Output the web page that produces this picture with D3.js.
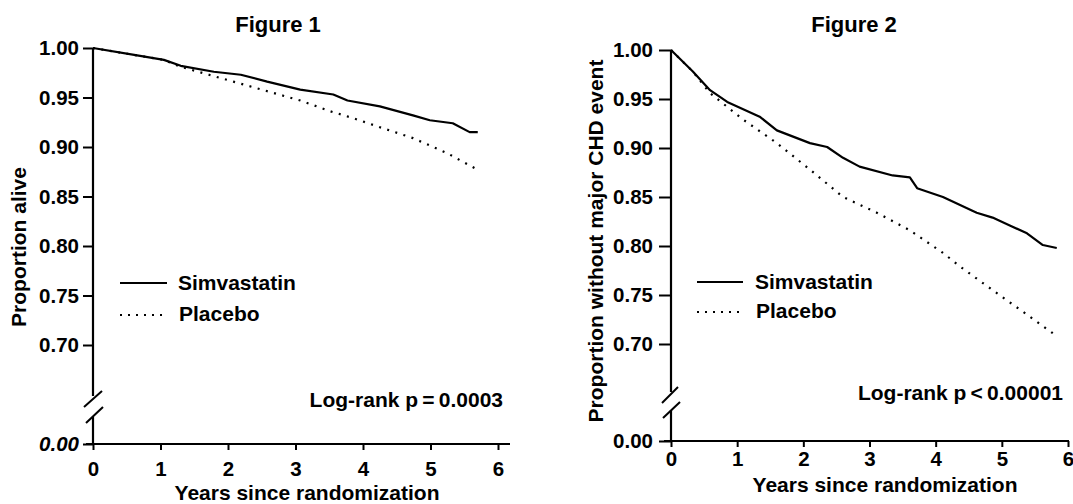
<!DOCTYPE html>
<html>
<head>
<meta charset="utf-8">
<script src="https://cdn.jsdelivr.net/npm/d3@7"></script>
<style>
  html, body { margin: 0; padding: 0; background: #fff; }
  svg { display: block; }
  text { font-family: "Liberation Sans", Arial, Helvetica, sans-serif; font-weight: bold; fill: #000; }
</style>
</head>
<body>
<svg id="chart" width="1073" height="504"></svg>
<script>
// ---------- data ----------
const xTicks = [0, 1, 2, 3, 4, 5, 6];
const yTicks = [0.00, 0.70, 0.75, 0.80, 0.85, 0.90, 0.95, 1.00];
const seriesNames = ["Simvastatin", "Placebo"];

// Figure 1: proportion alive
const fig1SimvaYears  = [0, 0.61, 1.05, 1.30, 1.79, 2.19, 2.58, 3.07, 3.56, 3.77, 4.25, 4.74, 4.99, 5.33, 5.58, 5.70];
const fig1SimvaValues = [1.000, 0.993, 0.988, 0.982, 0.976, 0.973, 0.966, 0.958, 0.953, 0.947, 0.941, 0.932, 0.927, 0.924, 0.915, 0.915];
const fig1PlaceboYears  = [0, 0.61, 1.05, 1.30, 2.08, 3.07, 3.52, 3.86, 4.25, 4.74, 5.24, 5.70];
const fig1PlaceboValues = [1.000, 0.993, 0.988, 0.981, 0.966, 0.947, 0.936, 0.929, 0.920, 0.909, 0.894, 0.877];

// Figure 2: proportion without major CHD event
const fig2SimvaYears  = [0, 0.33, 0.59, 0.85, 1.34, 1.60, 2.10, 2.36, 2.60, 2.85, 3.35, 3.61, 3.72, 4.11, 4.62, 4.86, 5.12, 5.38, 5.62, 5.83];
const fig2SimvaValues = [1.000, 0.978, 0.959, 0.947, 0.932, 0.918, 0.905, 0.901, 0.890, 0.881, 0.872, 0.870, 0.859, 0.850, 0.834, 0.829, 0.821, 0.813, 0.801, 0.798];
const fig2PlaceboYears  = [0, 0.33, 0.59, 1.09, 1.60, 2.10, 2.60, 3.11, 3.61, 4.11, 4.37, 4.86, 5.38, 5.77];
const fig2PlaceboValues = [1.000, 0.978, 0.956, 0.929, 0.905, 0.878, 0.850, 0.834, 0.816, 0.793, 0.779, 0.755, 0.730, 0.711];

const titles = ["Figure 1", "Figure 2"];
const yLabels = ["Proportion alive", "Proportion without major CHD event"];
const xLabel = "Years since randomization";
const pTexts = ["Log-rank p\u2009=\u20090.0003", "Log-rank p\u2009<\u20090.00001"];

// ---------- layout ----------
const panels = [
  {
    title: titles[0], yLabel: yLabels[0], pText: pTexts[0],
    simva: fig1SimvaYears.map((t, i) => ({ t, v: fig1SimvaValues[i] })),
    placebo: fig1PlaceboYears.map((t, i) => ({ t, v: fig1PlaceboValues[i] })),
    xr: [93, 498], yr: [444, 345, 48], xAxisEnd: 510,
    breakTop: 396, breakBot: 417,
    slashes: [[84, 407, 102, 391], [86, 423, 103, 407]],
    yTickSize: 10, yTickPad: 4,
    xTickPad: 11, xTitleY: 499.5, xTitleX: 307,
    titleX: 278, titleY: 32,
    yLabelX: 26, yLabelY: 247,
    italicZero: true,
    legend: { x1: 120, x2: 167, y1: 283, y2: 315, tx: 178 },
    pX: 503, pY: 407
  },
  {
    title: titles[1], yLabel: yLabels[1], pText: pTexts[1],
    simva: fig2SimvaYears.map((t, i) => ({ t, v: fig2SimvaValues[i] })),
    placebo: fig2PlaceboYears.map((t, i) => ({ t, v: fig2PlaceboValues[i] })),
    xr: [671, 1068], yr: [441, 344, 50], xAxisEnd: 1069,
    breakTop: 392, breakBot: 410,
    slashes: [[662, 403, 678, 387], [663, 418, 680, 402]],
    yTickSize: 12, yTickPad: 6,
    xTickPad: 4, xTitleY: 492, xTitleX: 885,
    titleX: 854, titleY: 32,
    yLabelX: 603, yLabelY: 241,
    italicZero: false,
    legend: { x1: 697, x2: 743, y1: 282, y2: 312, tx: 755 },
    pX: 1063, pY: 400
  }
];

const svg = d3.select("#chart");

panels.forEach(p => {
  const g = svg.append("g");
  const x = d3.scaleLinear().domain([0, 6]).range(p.xr);
  const y = d3.scaleLinear().domain([0, 0.70, 1.00]).range(p.yr);

  // Title
  g.append("text").attr("x", p.titleX).attr("y", p.titleY)
    .attr("text-anchor", "middle").style("font-size", "22px").text(p.title);

  // Y axis (ticks + labels), domain drawn manually with break
  const yAxis = g.append("g").attr("transform", `translate(${p.xr[0]},0)`)
    .call(d3.axisLeft(y).tickValues(yTicks).tickFormat(d3.format(".2f")).tickSize(p.yTickSize).tickPadding(p.yTickPad));
  yAxis.select(".domain").remove();
  yAxis.selectAll(".tick line").attr("stroke", "#000").attr("stroke-width", 2);
  yAxis.selectAll(".tick text").style("font-size", "20.5px").style("font-family", "'Liberation Sans', Arial, sans-serif")
    .style("font-weight", "bold")
    .style("font-style", d => (d === 0 && p.italicZero) ? "italic" : "normal");

  g.append("line").attr("x1", p.xr[0]).attr("x2", p.xr[0]).attr("y1", y(1)).attr("y2", p.breakTop)
    .attr("stroke", "#000").attr("stroke-width", 2.2);
  g.append("line").attr("x1", p.xr[0]).attr("x2", p.xr[0]).attr("y1", p.breakBot).attr("y2", y(0))
    .attr("stroke", "#000").attr("stroke-width", 2.2);
  p.slashes.forEach(s => {
    g.append("line").attr("x1", s[0]).attr("y1", s[1]).attr("x2", s[2]).attr("y2", s[3])
      .attr("stroke", "#000").attr("stroke-width", 2);
  });

  // X axis
  const xAxis = g.append("g").attr("transform", `translate(0,${y(0)})`)
    .call(d3.axisBottom(x).tickValues(xTicks).tickFormat(d3.format("d")).tickSize(6).tickPadding(p.xTickPad));
  xAxis.select(".domain").remove();
  xAxis.selectAll(".tick line").attr("stroke", "#000").attr("stroke-width", 2);
  xAxis.selectAll(".tick text").style("font-size", "20.5px").style("font-family", "'Liberation Sans', Arial, sans-serif")
    .style("font-weight", "bold");
  g.append("line").attr("x1", p.xr[0] - 7).attr("x2", p.xAxisEnd).attr("y1", y(0)).attr("y2", y(0))
    .attr("stroke", "#000").attr("stroke-width", 2.2);

  // Axis titles
  g.append("text").attr("x", p.xTitleX).attr("y", p.xTitleY).attr("text-anchor", "middle")
    .style("font-size", "21px").text(xLabel);
  g.append("text").attr("transform", `translate(${p.yLabelX},${p.yLabelY}) rotate(-90)`)
    .attr("text-anchor", "middle").style("font-size", "21px").text(p.yLabel);

  // Curves
  const line = d3.line().x(d => x(d.t)).y(d => y(d.v)).curve(d3.curveLinear);
  g.append("path").datum(p.placebo).attr("d", line).attr("fill", "none")
    .attr("stroke", "#000").attr("stroke-width", 2.2).attr("stroke-dasharray", "2,6.5");
  g.append("path").datum(p.simva).attr("d", line).attr("fill", "none")
    .attr("stroke", "#000").attr("stroke-width", 2.2).attr("stroke-linejoin", "round");

  // Legend
  const L = p.legend;
  g.append("line").attr("x1", L.x1).attr("x2", L.x2).attr("y1", L.y1).attr("y2", L.y1)
    .attr("stroke", "#000").attr("stroke-width", 2.2);
  g.append("line").attr("x1", L.x1).attr("x2", L.x2).attr("y1", L.y2).attr("y2", L.y2)
    .attr("stroke", "#000").attr("stroke-width", 2).attr("stroke-dasharray", "2,6");
  g.append("text").attr("x", L.tx).attr("y", L.y1 + 7).style("font-size", "21px").text(seriesNames[0]);
  g.append("text").attr("x", L.tx + 1).attr("y", L.y2 + 6).style("font-size", "21px").text(seriesNames[1]);

  // Log-rank
  g.append("text").attr("x", p.pX).attr("y", p.pY).attr("text-anchor", "end")
    .style("font-size", "21px").text(p.pText);
});
</script>
</body>
</html>
